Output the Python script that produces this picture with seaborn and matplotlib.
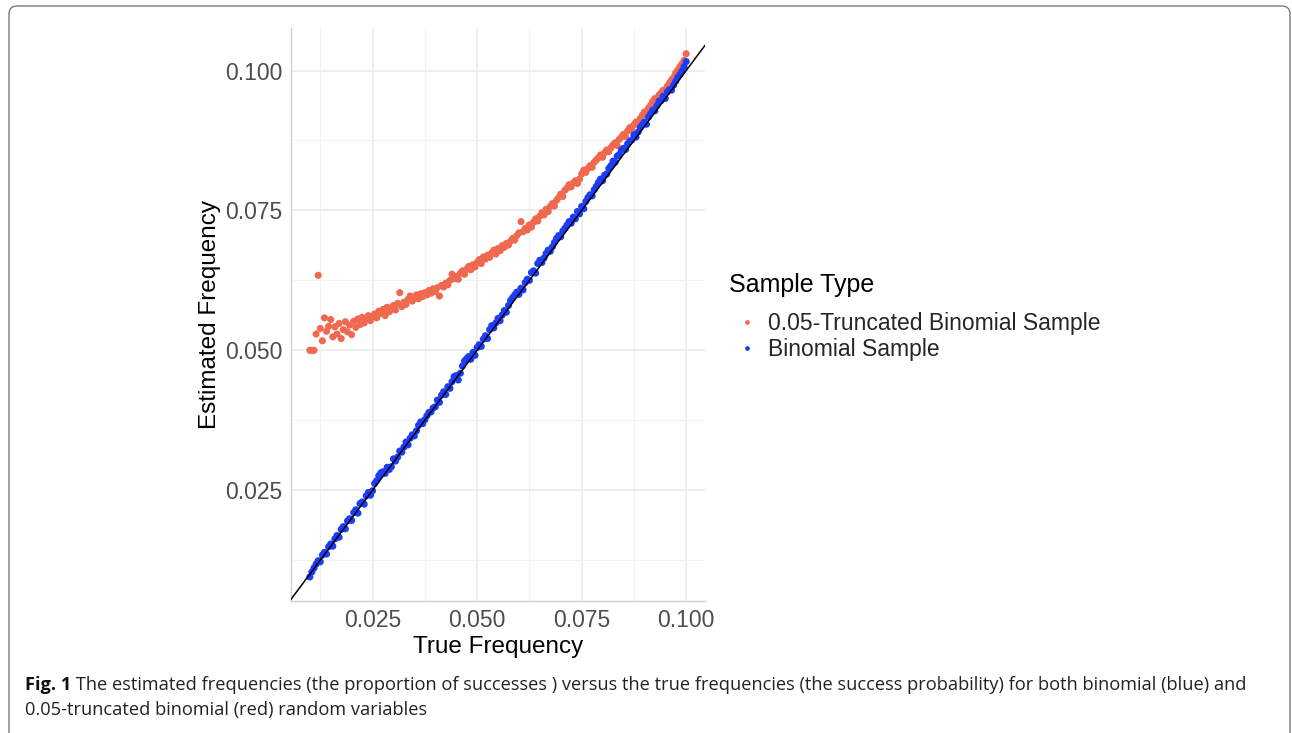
import numpy as np
import pandas as pd
import seaborn as sns
import matplotlib.pyplot as plt
from matplotlib.patches import FancyBboxPatch
from matplotlib.lines import Line2D

# ---- data (true frequency grid 0.010 ... 0.100) ----
truncated = [
    0.0500, 0.0500, 0.0500, 0.0529, 0.0634, 0.0539, 0.0517, 0.0558, 0.0534, 0.0543,
    0.0555, 0.0524, 0.0542, 0.0529, 0.0548, 0.0521, 0.0537, 0.0551, 0.0533, 0.0545,
    0.0528, 0.0552, 0.0541, 0.0556, 0.0546, 0.0559, 0.0549, 0.0555, 0.0562, 0.0553,
    0.0560, 0.0565, 0.0558, 0.0570, 0.0566, 0.0573, 0.0562, 0.0577, 0.0569, 0.0575,
    0.0580, 0.0572, 0.0584, 0.0603, 0.0578, 0.0586, 0.0582, 0.0591, 0.0597, 0.0588,
    0.0594, 0.0599, 0.0592, 0.0601, 0.0596, 0.0603, 0.0599, 0.0607, 0.0602, 0.0610,
    0.0605, 0.0612, 0.0597, 0.0616, 0.0613, 0.0620, 0.0617, 0.0625, 0.0636, 0.0628,
    0.0632, 0.0627, 0.0638, 0.0642, 0.0636, 0.0645, 0.0650, 0.0644, 0.0653, 0.0649,
    0.0657, 0.0662, 0.0655, 0.0667, 0.0663, 0.0670, 0.0666, 0.0674, 0.0679, 0.0672,
    0.0682, 0.0678, 0.0687, 0.0684, 0.0691, 0.0688, 0.0695, 0.0700, 0.0697, 0.0705,
    0.0710, 0.0730, 0.0712, 0.0718, 0.0715, 0.0724, 0.0720, 0.0729, 0.0735, 0.0731,
    0.0740, 0.0746, 0.0742, 0.0752, 0.0748, 0.0757, 0.0762, 0.0758, 0.0768, 0.0773,
    0.0779, 0.0775, 0.0786, 0.0790, 0.0796, 0.0792, 0.0799, 0.0803, 0.0798, 0.0806,
    0.0815, 0.0822, 0.0818, 0.0825, 0.0830, 0.0827, 0.0836, 0.0840, 0.0844, 0.0849,
    0.0845, 0.0853, 0.0858, 0.0855, 0.0862, 0.0867, 0.0871, 0.0866, 0.0877, 0.0881,
    0.0886, 0.0882, 0.0892, 0.0898, 0.0894, 0.0903, 0.0908, 0.0905, 0.0914, 0.0920,
    0.0926, 0.0922, 0.0933, 0.0938, 0.0945, 0.0950, 0.0947, 0.0956, 0.0960, 0.0965,
    0.0962, 0.0972, 0.0978, 0.0983, 0.0988, 0.0996, 0.1001, 0.1007, 0.1012, 0.1018,
    0.1030,
]

binomial = [
    0.0095, 0.0104, 0.0111, 0.0118, 0.0124, 0.0122, 0.0134, 0.0139, 0.0136, 0.0149,
    0.0154, 0.0150, 0.0163, 0.0169, 0.0166, 0.0180, 0.0185, 0.0181, 0.0195, 0.0199,
    0.0196, 0.0210, 0.0215, 0.0209, 0.0226, 0.0229, 0.0225, 0.0240, 0.0246, 0.0241,
    0.0249, 0.0262, 0.0267, 0.0276, 0.0281, 0.0283, 0.0280, 0.0291, 0.0287, 0.0292,
    0.0306, 0.0302, 0.0309, 0.0320, 0.0318, 0.0327, 0.0336, 0.0331, 0.0343, 0.0349,
    0.0347, 0.0356, 0.0366, 0.0372, 0.0369, 0.0376, 0.0383, 0.0389, 0.0390, 0.0397,
    0.0399, 0.0411, 0.0407, 0.0420, 0.0426, 0.0421, 0.0435, 0.0432, 0.0444, 0.0453,
    0.0455, 0.0447, 0.0459, 0.0472, 0.0481, 0.0485, 0.0489, 0.0484, 0.0496, 0.0491,
    0.0505, 0.0510, 0.0507, 0.0520, 0.0526, 0.0521, 0.0537, 0.0544, 0.0540, 0.0549,
    0.0557, 0.0553, 0.0563, 0.0571, 0.0568, 0.0580, 0.0589, 0.0594, 0.0599, 0.0604,
    0.0600, 0.0611, 0.0608, 0.0621, 0.0627, 0.0625, 0.0639, 0.0642, 0.0638, 0.0655,
    0.0661, 0.0657, 0.0665, 0.0673, 0.0679, 0.0677, 0.0685, 0.0693, 0.0700, 0.0705,
    0.0703, 0.0713, 0.0718, 0.0724, 0.0730, 0.0727, 0.0738, 0.0735, 0.0748, 0.0744,
    0.0757, 0.0753, 0.0766, 0.0773, 0.0778, 0.0776, 0.0787, 0.0793, 0.0800, 0.0806,
    0.0803, 0.0813, 0.0815, 0.0825, 0.0830, 0.0838, 0.0836, 0.0847, 0.0850, 0.0858,
    0.0861, 0.0859, 0.0869, 0.0873, 0.0876, 0.0885, 0.0881, 0.0890, 0.0898, 0.0903,
    0.0908, 0.0904, 0.0917, 0.0923, 0.0929, 0.0928, 0.0937, 0.0945, 0.0946, 0.0954,
    0.0950, 0.0962, 0.0966, 0.0965, 0.0974, 0.0981, 0.0988, 0.0993, 0.0999, 0.1007,
    0.1016,
]

series_labels = ["0.05-Truncated Binomial Sample", "Binomial Sample"]
series_colors = ["#F0694E", "#1B3DF8"]
tick_values = [0.025, 0.050, 0.075, 0.100]
tick_labels = ["0.025", "0.050", "0.075", "0.100"]
minor_ticks = [0.0125, 0.0375, 0.0625, 0.0875]

caption_bold = "Fig. 1"
caption_line1 = (" The estimated frequencies (the proportion of successes ) versus the true "
                 "frequencies (the success probability) for both binomial (blue) and")
caption_line2 = "0.05-truncated binomial (red) random variables"

n = len(truncated)
true_freq = np.round(np.linspace(0.010, 0.100, n), 4)

df = pd.DataFrame({
    "True Frequency": np.concatenate([true_freq, true_freq]),
    "Estimated Frequency": truncated + binomial,
    "Sample Type": [series_labels[0]] * n + [series_labels[1]] * len(binomial),
})

sns.set_theme(style="white")
plt.rcParams["font.family"] = ["Liberation Sans", "DejaVu Sans"]

W, H = 1292, 733
fig = plt.figure(figsize=(W / 100, H / 100), dpi=100)
fig.patch.set_facecolor("white")

ax = fig.add_axes([291 / W, 1 - 601 / H, (705 - 291) / W, (601 - 28) / H])
sns.scatterplot(data=df, x="True Frequency", y="Estimated Frequency",
                hue="Sample Type", hue_order=series_labels,
                palette=dict(zip(series_labels, series_colors)),
                s=26, linewidth=0, alpha=1.0, ax=ax, legend=False, zorder=3)
ax.axline((0.05, 0.05), slope=1, color="black", lw=1.1, zorder=4)

ax.set_xlim(0.0055, 0.1045)
ax.set_ylim(0.0052, 0.1076)
ax.set_xticks(tick_values)
ax.set_xticklabels(tick_labels)
ax.set_yticks(tick_values)
ax.set_yticklabels(tick_labels)
ax.set_xticks(minor_ticks, minor=True)
ax.set_yticks(minor_ticks, minor=True)
ax.grid(which="major", color="#EBEBEB", lw=1.2, zorder=0)
ax.grid(which="minor", color="#F2F2F2", lw=0.8, zorder=0)
ax.set_axisbelow(True)
for side in ["top", "right"]:
    ax.spines[side].set_visible(False)
for side in ["left", "bottom"]:
    ax.spines[side].set_color("#D0D0D0")
    ax.spines[side].set_linewidth(1.0)
ax.tick_params(which="major", length=4, width=1, color="#4D4D4D",
               labelcolor="#4D4D4D", labelsize=16.5, pad=2)
ax.tick_params(which="minor", length=0)
ax.set_xlabel("True Frequency", fontsize=17.5, color="black", labelpad=3)
ax.set_ylabel("Estimated Frequency", fontsize=17.5, color="black", labelpad=3)

# legend
fig.text(729 / W, 1 - 285 / H, "Sample Type", fontsize=18, color="black",
         ha="left", va="center")
handles = [Line2D([], [], marker="o", ls="none", markersize=3.4,
                  markerfacecolor=c, markeredgewidth=0) for c in series_colors]
fig.legend(handles, series_labels, loc="upper left",
           bbox_to_anchor=(737 / W, 1 - 312 / H), frameon=False,
           fontsize=16.5, handlelength=0.9, handletextpad=0.45,
           labelspacing=0.12, borderpad=0, borderaxespad=0)

# caption
cap_font = ["Open Sans", "DejaVu Sans"]
cap_size = 13.15
t_bold = fig.text(25 / W, 1 - 685 / H, caption_bold, fontsize=cap_size, fontweight="bold",
                  family=cap_font, ha="left", va="center", color="#111111")
fig.canvas.draw()
bb = t_bold.get_window_extent(renderer=fig.canvas.get_renderer())
fig.text(bb.x1 / W, 1 - 685 / H, caption_line1, fontsize=cap_size, family=cap_font,
         ha="left", va="center", color="#222222")
fig.text(25 / W, 1 - 710 / H, caption_line2, fontsize=cap_size, family=cap_font,
         ha="left", va="center", color="#222222")

# frame around the figure (top edge 6 px below the top, left 9 px, right 1290 px)
frame = FancyBboxPatch((0.09, -0.5), 12.81, 7.77,
                       boxstyle="round,pad=0,rounding_size=0.08",
                       transform=fig.dpi_scale_trans, fill=False,
                       edgecolor="#7A7A7A", lw=1.0, clip_on=False)
fig.patches.append(frame)

fig.savefig("out.png", dpi=100, facecolor="white")
